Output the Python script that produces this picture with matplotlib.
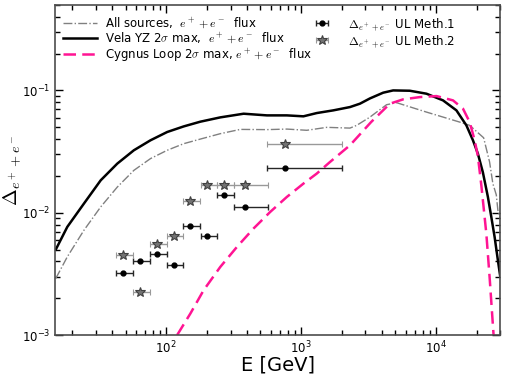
import numpy as np
import matplotlib
matplotlib.use("Agg")
import matplotlib.pyplot as plt

plt.rcParams['mathtext.fontset'] = 'cm'
plt.rcParams['font.family'] = ['DejaVu Sans']

# curves: energy [GeV] and Delta values
E_vela = [15.2, 18.5, 24.6, 32.7, 43.4, 57.6, 76.5, 101.7, 135, 179, 252, 375, 558, 784,
          1040, 1306, 1733, 2302, 2729, 3236, 4055, 4809, 6391, 8492, 11264, 14155,
          16780, 18770, 20420, 22230, 24210, 25670, 27160, 28710, 29920]
D_vela = [0.0050, 0.00766, 0.0119, 0.0184, 0.0252, 0.0324, 0.0391, 0.0457, 0.0508, 0.0555,
          0.0602, 0.0645, 0.0625, 0.0625, 0.0614, 0.0653, 0.0687, 0.0731, 0.0779, 0.0860,
          0.0958, 0.100, 0.0994, 0.0940, 0.0829, 0.0687, 0.0518, 0.0391, 0.0304, 0.0214,
          0.0135, 0.00924, 0.00634, 0.0041, 0.0030]

E_all = [15.2, 18.5, 24.6, 32.7, 43.4, 57.6, 76.5, 101.7, 135, 179, 252, 354, 558, 784,
         1102, 1549, 2302, 2580, 3236, 3627, 4298, 5097, 8492, 14962, 17750, 22520,
         24930, 26360, 27950, 28710, 29920]
D_all = [0.0029, 0.00436, 0.0072, 0.01115, 0.0162, 0.0222, 0.0277, 0.0324, 0.0367, 0.0400,
         0.0443, 0.0480, 0.0478, 0.0483, 0.0472, 0.0499, 0.0492, 0.0518, 0.0605, 0.0665,
         0.0764, 0.0794, 0.0665, 0.0551, 0.0518, 0.0410, 0.0260, 0.0173, 0.0140, 0.0105,
         0.0090]

E_cyg = [120.6, 151.2, 189.7, 252, 334.8, 444, 590, 784, 1040, 1306, 1637, 2302, 3300,
         4548, 5702, 7577, 10070, 13355, 15835, 17750, 19320, 20420, 21650, 23580, 24930,
         26120, 26690]
D_cyg = [0.001, 0.0015, 0.00233, 0.00361, 0.00526, 0.00743, 0.01015, 0.01346, 0.0173,
         0.0209, 0.026, 0.0356, 0.0551, 0.0779, 0.0845, 0.0882, 0.0899, 0.0829, 0.0709,
         0.0551, 0.0391, 0.029, 0.0168, 0.00676, 0.00299, 0.00141, 0.001]

# upper limits, binned in energy
E_bin = [48, 64, 85, 114, 151, 202, 268, 387, 766]
E_lo = [42.3, 56.4, 75.3, 101, 133, 180, 238, 316, 563]
E_hi = [56.4, 75.5, 101, 134, 179, 239, 316, 569, 2000]
UL_m1 = [0.00323, 0.00405, 0.00458, 0.00373, 0.00785, 0.00647, 0.0140, 0.0111, 0.0231]
UL_m2 = [0.0045, 0.00224, 0.00556, 0.0064, 0.0124, 0.0169, 0.0169, 0.0169, 0.0362]

xerr = [np.array(E_bin) - np.array(E_lo), np.array(E_hi) - np.array(E_bin)]

fig = plt.figure(figsize=(5.06, 3.79), dpi=100)
ax = fig.add_axes([0.1087, 0.116, 0.8803, 0.871])

l1, = ax.plot(E_all, D_all, color='0.5', ls='-.', lw=1.0,
              label=r'All sources,  $e^+ + e^-$  flux')
l2, = ax.plot(E_vela, D_vela, color='black', ls='-', lw=1.8,
              label=r'Vela YZ 2$\sigma$ max,  $e^+ + e^-$  flux')
l3, = ax.plot(E_cyg, D_cyg, color='#ff1493', ls=(0, (5, 2.5)), lw=1.8,
              label=r'Cygnus Loop 2$\sigma$ max, $e^+ + e^-$  flux')

e1 = ax.errorbar(E_bin, UL_m1, xerr=xerr, fmt='o', ms=3.5, color='black',
                 ecolor='0.15', elinewidth=1.0, capsize=2,
                 label=r'$\Delta_{e^+ + e^-}$ UL Meth.1')
e2 = ax.errorbar(E_bin, UL_m2, xerr=xerr, fmt='*', ms=7, mfc='0.45', mec='0.25',
                 mew=0.8, ecolor='0.6', elinewidth=1.0, capsize=2,
                 label=r'$\Delta_{e^+ + e^-}$ UL Meth.2')

ax.set_xscale('log')
ax.set_yscale('log')
ax.set_xlim(15, 3e4)
ax.set_ylim(1e-3, 0.5)

ax.set_xlabel('E [GeV]', fontsize=14, labelpad=-1)
ax.set_ylabel(r'$\Delta_{e^+ + e^-}$', fontsize=14.5, labelpad=-1)

for s in ax.spines.values():
    s.set_color('0.3')
    s.set_linewidth(1.2)
ax.tick_params(which='both', direction='in', top=True, right=True, colors='black',
               labelsize=8.5)
ax.tick_params(which='major', length=6, width=1.0)
ax.tick_params(which='minor', length=3.5, width=1.0)

leg1 = ax.legend(handles=[l1, l2, l3], loc='upper left', frameon=False,
                 fontsize=8.5, handlelength=2.9, handletextpad=0.7,
                 labelspacing=0.08, bbox_to_anchor=(-0.007, 1.0))
ax.add_artist(leg1)
ax.legend(handles=[e1, e2], loc='upper left', frameon=False, fontsize=8.5,
          handlelength=1.0, labelspacing=0.12, bbox_to_anchor=(0.563, 1.0),
          handletextpad=1.7)

fig.savefig('out.png', dpi=100)
